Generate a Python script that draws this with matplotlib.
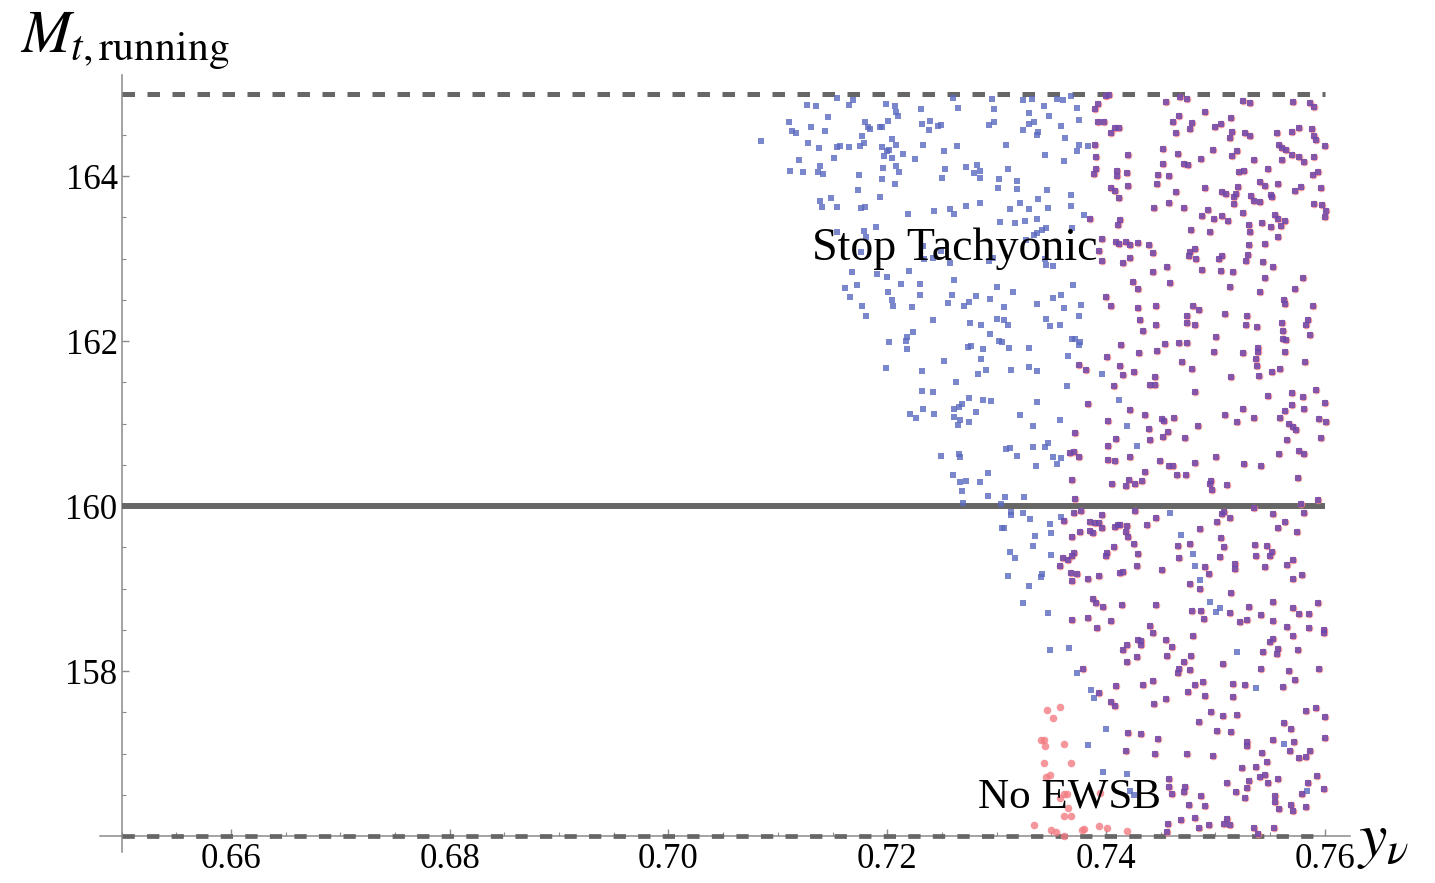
import numpy as np
import matplotlib
matplotlib.use("Agg")
import matplotlib.pyplot as plt
from matplotlib.ticker import MultipleLocator

# scan points (y_nu, M_t running) split by which condition fails
# stop tachyonic only
tachyonic = [
    (0.7154,164.94),(0.7169,164.92),(0.7165,164.86),(0.7127,164.86),(0.7135,164.85),(0.7199,164.87),(0.7207,164.85),
    (0.7208,164.78),(0.7210,164.73),(0.7231,164.81),(0.7260,164.95),(0.7265,164.83),(0.7296,164.93),(0.7298,164.81),
    (0.7324,164.92),(0.7332,164.93),(0.7343,164.85),(0.7330,164.76),(0.7146,164.71),(0.7110,164.66),(0.7130,164.59),
    (0.7113,164.55),(0.7117,164.52),(0.7143,164.55),(0.7180,164.65),(0.7182,164.59),(0.7184,164.57),(0.7193,164.59),
    (0.7195,164.60),(0.7201,164.67),(0.7232,164.63),(0.7239,164.67),(0.7238,164.56),(0.7246,164.61),(0.7249,164.62),
    (0.7293,164.62),(0.7298,164.66),(0.7330,164.63),(0.7334,164.66),(0.7337,164.50),(0.7338,164.53),(0.7324,164.56),
    (0.7348,164.73),(0.7177,164.49),(0.7085,164.43),(0.7128,164.40),(0.7138,164.34),(0.7154,164.35),(0.7157,164.36),
    (0.7165,164.35),(0.7175,164.36),(0.7179,164.40),(0.7195,164.35),(0.7204,164.45),(0.7208,164.38),(0.7202,164.32),
    (0.7200,164.30),(0.7197,164.24),(0.7204,164.22),(0.7214,164.27),(0.7225,164.21),(0.7233,164.38),(0.7252,164.30),
    (0.7264,164.36),(0.7309,164.38),(0.7344,164.25),(0.7119,164.19),(0.7151,164.22),(0.7139,164.12),(0.7111,164.06),
    (0.7123,164.05),(0.7137,164.05),(0.7141,164.03),(0.7196,164.10),(0.7208,164.12),(0.7211,164.05),(0.7174,164.01),
    (0.7195,163.96),(0.7207,163.90),(0.7250,163.97),(0.7253,164.08),(0.7272,164.11),(0.7282,164.13),(0.7279,164.04),
    (0.7285,164.06),(0.7285,163.97),(0.7302,163.96),(0.7310,164.08),(0.7319,163.94),(0.7301,163.86),(0.7319,163.84),
    (0.7346,163.83),(0.7173,163.83),(0.7193,163.75),(0.7139,163.70),(0.7149,163.73),(0.7140,163.62),(0.7154,163.63),
    (0.7176,163.61),(0.7180,163.63),(0.7219,163.54),(0.7243,163.58),(0.7257,163.60),(0.7261,163.54),(0.7272,163.64),
    (0.7285,163.67),(0.7312,163.60),(0.7321,163.67),(0.7330,163.60),(0.7338,163.72),(0.7347,163.61),(0.7303,163.44),
    (0.7317,163.43),(0.7326,163.45),(0.7337,163.48),(0.7179,163.33),(0.7181,163.26),(0.7190,163.38),(0.7154,163.32),
    (0.7345,163.37),(0.7342,163.34),(0.7337,163.31),(0.7334,163.28),(0.7327,163.22),(0.7233,163.15),(0.7176,163.08),
    (0.7234,162.99),(0.7242,163.01),(0.7249,163.09),(0.7257,162.94),(0.7293,162.97),(0.7297,163.01),(0.7344,163.00),
    (0.7345,162.92),(0.7168,162.84),(0.7220,162.85),(0.7191,162.81),(0.7200,162.77),(0.7161,162.64),(0.7172,162.68),
    (0.7213,162.69),(0.7230,162.69),(0.7261,162.74),(0.7201,162.60),(0.7230,162.56),(0.7259,162.56),(0.7281,162.55),
    (0.7300,162.66),(0.7315,162.59),(0.7166,162.53),(0.7204,162.50),(0.7205,162.43),(0.7177,162.43),(0.7223,162.41),
    (0.7256,162.46),(0.7270,162.43),(0.7275,162.47),(0.7294,162.51),(0.7307,162.41),(0.7337,162.45),(0.7181,162.30),
    (0.7242,162.26),(0.7276,162.22),(0.7286,162.19),(0.7300,162.27),(0.7307,162.25),(0.7310,162.19),(0.7345,162.27),
    (0.7294,162.09),(0.7224,162.11),
    (0.7355,164.93),(0.7361,164.92),(0.7368,164.97),(0.7374,164.83),(0.7359,164.61),(0.7375,164.68),(0.7363,164.46),
    (0.7375,164.38),(0.7384,164.36),(0.7374,164.30),(0.7362,164.18),(0.7368,163.77),(0.7368,163.64),(0.7380,163.53),
    (0.7369,163.37),(0.7352,162.91),(0.7370,162.68),(0.7359,162.56),(0.7352,162.52),(0.7377,162.44),(0.7362,162.40),
    (0.7375,162.30),(0.7349,162.18),(0.7358,162.19),
    (0.7202,161.99),(0.7217,162.00),(0.7218,162.05),(0.7218,161.90),(0.7274,161.93),(0.7277,161.94),(0.7288,161.90),
    (0.7302,162.00),(0.7305,161.99),(0.7311,161.91),(0.7330,161.91),(0.7252,161.76),(0.7286,161.78),(0.7199,161.67),
    (0.7232,161.64),(0.7283,161.60),(0.7290,161.65),(0.7313,161.65),(0.7330,161.69),(0.7337,161.64),(0.7263,161.50),
    (0.7232,161.39),(0.7242,161.38),(0.7275,161.31),(0.7268,161.24),(0.7266,161.20),(0.7261,161.18),(0.7288,161.29),
    (0.7295,161.27),(0.7337,161.26),(0.7233,161.17),(0.7243,161.12),(0.7221,161.11),(0.7226,161.07),(0.7281,161.14),
    (0.7261,161.08),(0.7267,161.04),(0.7265,160.98),(0.7275,161.02),(0.7321,161.10),(0.7333,160.97),(0.7333,160.72),
    (0.7309,160.69),(0.7312,160.70),(0.7319,160.61),(0.7249,160.61),(0.7266,160.63),(0.7267,160.59),(0.7336,160.49),
    (0.7260,160.38),(0.7292,160.40),(0.7267,160.29),(0.7272,160.30),(0.7285,160.29),(0.7268,160.18),(0.7292,160.12),
    (0.7308,160.11),(0.7325,160.11),(0.7269,160.04),(0.7304,160.03),(0.7313,159.93),(0.7313,159.89),(0.7324,159.91),
    (0.7331,159.84),(0.7305,159.73),(0.7307,159.73),(0.7335,159.64),(0.7333,159.51),(0.7312,159.44),(0.7317,159.37),
    (0.7310,159.15),
    (0.7369,162.03),(0.7372,162.02),(0.7376,161.99),(0.7375,161.95),(0.7365,161.82),(0.7396,161.60),(0.7364,161.45),
    (0.7412,161.28),(0.7358,161.04),(0.7419,160.97),(0.7347,160.76),(0.7344,160.71),(0.7428,160.73),(0.7352,160.60),
    (0.7359,160.58),(0.7355,160.51),(0.7359,159.87),(0.7349,159.78),(0.7350,159.67),(0.7459,159.91),(0.7469,159.65),
    (0.7480,159.42),(0.7350,159.41),(0.7481,159.27),(0.7486,159.10),(0.7342,159.18),(0.7341,159.14),
    (0.7330,159.03),(0.7324,158.83),
    (0.7347,158.70),(0.7349,158.25),(0.7366,158.28),(0.7374,157.97),(0.7386,157.77),(0.7389,157.67),(0.7400,157.30),
    (0.7384,157.10),(0.7397,156.78),(0.7419,156.75),(0.7422,156.54),(0.7426,156.50),(0.7495,158.84),(0.7504,158.76),
    (0.7501,158.71),(0.7520,158.23),(0.7537,157.80),(0.7563,157.12),(0.7584,156.54),
]

# stop tachyonic and no EWSB at the same time
both = [
    (0.7403,164.98),(0.7400,164.97),(0.7468,164.96),(0.7474,164.93),(0.7455,164.90),(0.7393,164.87),(0.7390,164.81),
    (0.7525,164.91),(0.7532,164.89),(0.7571,164.90),(0.7587,164.89),(0.7590,164.84),(0.7491,164.77),(0.7467,164.73),
    (0.7393,164.66),(0.7398,164.66),(0.7461,164.65),(0.7479,164.64),(0.7514,164.70),(0.7505,164.63),(0.7500,164.59),
    (0.7477,164.57),(0.7408,164.58),(0.7412,164.58),(0.7405,164.52),(0.7464,164.52),(0.7515,164.53),(0.7513,164.46),
    (0.7527,164.52),(0.7532,164.48),(0.7556,164.52),(0.7570,164.53),(0.7577,164.58),(0.7588,164.57),(0.7590,164.49),
    (0.7592,164.44),(0.7558,164.38),(0.7561,164.34),(0.7565,164.32),(0.7570,164.26),(0.7577,164.23),(0.7581,164.17),
    (0.7590,164.23),(0.7600,164.36),(0.7390,164.38),(0.7452,164.33),(0.7391,164.23),(0.7420,164.26),(0.7466,164.27),
    (0.7498,164.32),(0.7520,164.30),(0.7515,164.24),(0.7487,164.21),(0.7471,164.15),(0.7475,164.13),(0.7452,164.15),
    (0.7535,164.20),(0.7561,164.19),(0.7391,164.08),(0.7389,164.02),(0.7410,164.06),(0.7410,164.00),(0.7419,164.04),
    (0.7448,164.01),(0.7458,164.00),(0.7522,164.05),(0.7526,164.06),(0.7548,164.09),(0.7589,164.01),(0.7594,164.05),
    (0.7447,163.90),(0.7405,163.86),(0.7408,163.82),(0.7420,163.88),(0.7464,163.81),(0.7491,163.86),(0.7506,163.81),
    (0.7510,163.78),(0.7517,163.75),(0.7519,163.78),(0.7521,163.87),(0.7541,163.93),(0.7545,163.88),(0.7557,163.90),
    (0.7578,163.87),(0.7573,163.82),(0.7597,163.85),(0.7412,163.73),(0.7533,163.76),(0.7535,163.70),(0.7541,163.68),
    (0.7551,163.77),(0.7552,163.74),(0.7458,163.67),(0.7517,163.66),(0.7590,163.66),(0.7598,163.65),(0.7601,163.58),
    (0.7444,163.61),(0.7471,163.61),(0.7385,163.48),(0.7413,163.47),(0.7411,163.41),(0.7493,163.59),(0.7488,163.52),
    (0.7499,163.48),(0.7506,163.52),(0.7512,163.46),(0.7525,163.55),(0.7555,163.53),(0.7557,163.48),(0.7564,163.46),
    (0.7600,163.50),(0.7531,163.41),(0.7543,163.43),(0.7551,163.38),(0.7560,163.40),(0.7532,163.32),(0.7478,163.34),
    (0.7495,163.32),(0.7557,163.26),(0.7396,163.24),(0.7409,163.20),(0.7412,163.17),(0.7418,163.20),(0.7422,163.16),
    (0.7429,163.19),(0.7439,163.16),(0.7394,163.09),(0.7396,162.97),(0.7416,162.94),(0.7422,163.01),(0.7443,163.07),
    (0.7477,163.08),(0.7476,163.03),(0.7482,163.00),(0.7481,163.12),(0.7503,162.99),(0.7506,163.03),(0.7531,163.16),
    (0.7530,163.04),(0.7528,162.97),(0.7545,163.18),(0.7544,162.96),(0.7553,162.90),(0.7456,162.90),(0.7488,162.86),
    (0.7505,162.85),(0.7516,162.84),(0.7443,162.84),(0.7545,162.76),(0.7580,162.76),(0.7459,162.70),(0.7425,162.71),
    (0.7429,162.63),(0.7513,162.65),(0.7541,162.59),(0.7573,162.63),(0.7563,162.50),(0.7564,162.45),(0.7400,162.53),
    (0.7405,162.43),(0.7446,162.43),(0.7429,162.40),(0.7480,162.42),(0.7485,162.38),(0.7589,162.42),(0.7474,162.30),
    (0.7509,162.33),(0.7529,162.30),(0.7431,162.25),(0.7434,162.12),(0.7446,162.19),(0.7474,162.22),(0.7481,162.20),
    (0.7528,162.19),(0.7538,162.17),(0.7561,162.22),(0.7562,162.12),(0.7583,162.19),(0.7585,162.26),
    (0.7414,161.95),(0.7454,161.96),(0.7467,161.97),(0.7474,161.97),(0.7501,162.05),(0.7562,162.02),(0.7565,162.01),
    (0.7587,162.07),(0.7401,161.81),(0.7413,161.70),(0.7375,161.71),(0.7382,161.65),(0.7430,161.86),(0.7447,161.88),
    (0.7499,161.87),(0.7525,161.86),(0.7539,161.92),(0.7539,161.87),(0.7564,161.87),(0.7537,161.78),(0.7538,161.70),
    (0.7470,161.75),(0.7479,161.66),(0.7582,161.75),(0.7416,161.59),(0.7426,161.62),(0.7445,161.56),(0.7440,161.47),
    (0.7445,161.47),(0.7407,161.45),(0.7514,161.56),(0.7540,161.58),(0.7552,161.62),(0.7559,161.66),(0.7481,161.38),
    (0.7548,161.33),(0.7570,161.37),(0.7580,161.32),(0.7592,161.41),(0.7600,161.25),(0.7384,161.24),(0.7570,161.22),
    (0.7564,161.15),(0.7525,161.18),(0.7422,161.16),(0.7436,161.10),(0.7509,161.10),(0.7520,161.02),(0.7535,161.07),
    (0.7559,161.07),(0.7581,161.17),(0.7595,161.06),(0.7601,161.02),(0.7402,161.03),(0.7451,161.05),(0.7453,161.03),
    (0.7462,161.07),(0.7484,160.97),(0.7567,160.99),(0.7571,160.96),(0.7574,160.92),(0.7439,160.93),(0.7457,160.90),
    (0.7409,160.81),(0.7440,160.80),(0.7452,160.84),(0.7472,160.83),(0.7566,160.80),(0.7597,160.83),(0.7372,160.88),
    (0.7402,160.73),(0.7577,160.67),(0.7581,160.63),(0.7558,160.63),(0.7367,160.64),(0.7371,160.66),(0.7375,160.60),
    (0.7402,160.56),(0.7408,160.55),(0.7422,160.59),(0.7449,160.55),(0.7458,160.49),(0.7461,160.49),(0.7481,160.52),
    (0.7501,160.60),(0.7526,160.51),(0.7542,160.48),(0.7436,160.41),(0.7465,160.37),(0.7473,160.37),(0.7576,160.34),
    (0.7369,160.32),(0.7406,160.27),(0.7421,160.31),(0.7427,160.27),(0.7433,160.30),(0.7418,160.24),(0.7495,160.27),
    (0.7496,160.30),(0.7497,160.19),(0.7511,160.26),(0.7372,160.08),(0.7594,160.07),(0.7578,160.03),(0.7427,159.94),
    (0.7535,159.98),(0.7371,159.91),(0.7377,159.94),(0.7396,159.89),(0.7362,159.82),(0.7385,159.81),(0.7390,159.80),
    (0.7394,159.80),(0.7396,159.73),(0.7385,159.70),(0.7388,159.67),(0.7408,159.74),(0.7411,159.77),(0.7413,159.77),
    (0.7419,159.76),(0.7418,159.69),(0.7438,159.77),(0.7446,159.86),(0.7486,159.72),(0.7502,159.81),(0.7506,159.90),
    (0.7508,159.93),(0.7513,159.86),(0.7553,159.90),(0.7564,159.81),(0.7557,159.73),(0.7575,159.68),(0.7581,159.92),
    (0.7369,159.62),(0.7376,159.68),(0.7420,159.62),(0.7426,159.54),(0.7407,159.50),(0.7401,159.43),(0.7400,159.39),
    (0.7429,159.42),(0.7371,159.43),(0.7369,159.39),(0.7365,159.35),(0.7361,159.37),(0.7358,159.27),(0.7368,159.19),
    (0.7374,159.17),(0.7369,159.09),(0.7384,159.11),(0.7394,159.15),(0.7413,159.19),(0.7416,159.20),(0.7428,159.27),
    (0.7451,159.22),(0.7466,159.51),(0.7477,159.54),(0.7467,159.37),(0.7505,159.61),(0.7508,159.50),(0.7504,159.38),
    (0.7491,159.26),(0.7494,159.17),(0.7477,159.06),(0.7518,159.30),(0.7518,159.24),(0.7536,159.53),(0.7547,159.52),
    (0.7552,159.44),(0.7550,159.39),(0.7537,159.39),(0.7545,159.26),(0.7566,159.28),(0.7571,159.34),(0.7579,159.16),
    (0.7571,159.11),
    (0.7388,158.87),(0.7391,158.82),(0.7397,158.77),(0.7415,158.80),(0.7446,158.80),(0.7486,158.99),(0.7514,158.94),
    (0.7479,158.73),(0.7487,158.73),(0.7490,158.63),(0.7513,158.70),(0.7531,158.77),(0.7553,158.84),(0.7571,158.76),
    (0.7577,158.69),(0.7586,158.69),(0.7594,158.83),(0.7542,158.68),(0.7523,158.60),(0.7529,158.62),(0.7553,158.61),
    (0.7566,158.53),(0.7586,158.52),(0.7599,158.50),(0.7599,158.46),(0.7571,158.43),(0.7369,158.62),(0.7384,158.64),
    (0.7405,158.61),(0.7392,158.52),(0.7440,158.54),(0.7443,158.46),(0.7480,158.43),(0.7429,158.38),(0.7432,158.36),
    (0.7432,158.31),(0.7455,158.37),(0.7460,158.29),(0.7419,158.31),(0.7416,158.25),(0.7428,158.17),(0.7419,158.11),
    (0.7456,158.18),(0.7478,158.18),(0.7471,158.11),(0.7467,158.02),(0.7466,157.98),(0.7477,158.01),(0.7507,158.08),
    (0.7542,158.02),(0.7544,158.23),(0.7550,158.35),(0.7553,158.39),(0.7557,158.27),(0.7556,158.21),(0.7576,158.25),
    (0.7595,158.02),(0.7567,158.00),(0.7573,157.89),(0.7379,158.02),(0.7394,157.73),(0.7409,157.82),(0.7434,157.83),
    (0.7443,157.88),(0.7481,157.83),(0.7489,157.87),(0.7475,157.75),(0.7491,157.70),(0.7516,157.84),(0.7527,157.83),
    (0.7562,157.81),(0.7516,157.68),(0.7444,157.60),(0.7455,157.66),(0.7405,157.62),(0.7408,157.57),(0.7496,157.50),
    (0.7507,157.45),(0.7520,157.47),(0.7485,157.38),(0.7502,157.27),(0.7514,157.26),(0.7563,157.37),(0.7569,157.30),
    (0.7583,157.52),(0.7592,157.55),(0.7600,157.44),(0.7600,157.19),(0.7420,157.25),(0.7432,157.24),(0.7448,157.17),
    (0.7418,157.03),(0.7445,156.99),(0.7474,156.99),(0.7498,156.97),(0.7529,157.14),(0.7529,157.09),(0.7553,157.16),
    (0.7572,157.14),(0.7568,157.03),(0.7543,157.01),(0.7547,156.90),(0.7577,156.95),(0.7583,156.96),(0.7587,157.03),
    (0.7524,156.82),(0.7537,156.84),(0.7541,156.71),(0.7545,156.74),(0.7531,156.67),(0.7548,156.64),(0.7557,156.69),
    (0.7593,156.73),(0.7585,156.64),(0.7599,156.57),(0.7511,156.64),(0.7519,156.53),(0.7529,156.58),(0.7527,156.46),
    (0.7458,156.69),(0.7458,156.59),(0.7460,156.51),(0.7472,156.60),(0.7471,156.53),(0.7487,156.48),(0.7476,156.37),
    (0.7491,156.36),(0.7555,156.49),(0.7555,156.41),(0.7558,156.33),(0.7569,156.37),(0.7571,156.30),(0.7579,156.51),
    (0.7583,156.35),(0.7457,156.14),(0.7456,156.05),(0.7469,156.19),(0.7481,156.22),(0.7485,156.10),(0.7494,156.13),
    (0.7508,156.15),(0.7511,156.21),(0.7513,156.13),(0.7535,156.10),(0.7539,156.03),(0.7554,156.10),
]

# no EWSB only
no_ewsb = [
    (0.7346,157.53),(0.7358,157.56),(0.7352,157.43),(0.7341,157.16),(0.7343,157.16),(0.7344,157.09),(0.7362,157.12),
    (0.7343,156.89),(0.7368,156.89),(0.7345,156.72),(0.7349,156.74),(0.7362,156.51),(0.7364,156.51),(0.7358,156.46),
    (0.7395,156.52),(0.7365,156.34),(0.7362,156.24),(0.7368,156.24),(0.7334,156.13),(0.7394,156.12),(0.7401,156.10),
    (0.7350,156.07),(0.7354,156.05),(0.7362,156.00),(0.7378,156.07),(0.7380,156.09),(0.7419,156.06),
]

X_MIN, X_MAX = 0.65, 0.76
Y_MIN, Y_MAX = 156, 165
MT_REF = 160
xticks = [0.66, 0.68, 0.70, 0.72, 0.74, 0.76]
yticks = [158, 160, 162, 164]

plt.rcParams['font.family'] = ['Liberation Serif', 'DejaVu Serif']
plt.rcParams['mathtext.fontset'] = 'stix'

fig = plt.figure(figsize=(14.35, 8.83), dpi=100)
ax = fig.add_axes([0.0848, 0.0532, 0.8383, 0.8409])
ax.set_xlim(X_MIN, X_MAX)
ax.set_ylim(Y_MIN, Y_MAX)
for sp in ax.spines.values():
    sp.set_visible(False)

axis_col = '#8a8a8a'
line_col = '#666666'

# axes drawn Mathematica style, crossing a bit past the origin
ax.plot([X_MIN - 0.002, X_MAX + 0.0023], [Y_MIN, Y_MIN], color=axis_col, lw=1.1, clip_on=False, zorder=1)
ax.plot([X_MIN, X_MIN], [Y_MIN - 0.19, Y_MAX + 0.22], color=axis_col, lw=1.1, clip_on=False, zorder=1)

# scan boundaries and reference mass
ax.plot([X_MIN, X_MAX], [Y_MAX, Y_MAX], color=line_col, lw=3.6, ls=(0, (2.5, 2.5)), clip_on=False, zorder=2)
ax.plot([X_MIN, X_MAX], [Y_MIN, Y_MIN], color=line_col, lw=3.4, ls=(0, (2.6, 2.6)), clip_on=False, zorder=2)
ax.plot([X_MIN, X_MAX], [MT_REF, MT_REF], color=line_col, lw=4.3, solid_capstyle='butt', clip_on=False, zorder=2)

ex, ey = np.array(no_ewsb + both).T
ax.scatter(ex, ey, s=30, marker='o', color='#f27c82', alpha=0.8, linewidths=0, zorder=3, clip_on=False)
tx, ty = np.array(tachyonic).T
ax.scatter(tx, ty, s=22, marker='s', color='#5a69c0', alpha=0.8, linewidths=0, zorder=4, clip_on=False)
bx, by = np.array(both).T
ax.scatter(bx, by, s=21, marker='s', color='#6a48ae', alpha=0.82, linewidths=0, zorder=4, clip_on=False)

ax.set_xticks(xticks)
ax.set_xticklabels(['%.2f' % v for v in xticks])
ax.set_yticks(yticks)
ax.set_yticklabels([str(v) for v in yticks])
ax.xaxis.set_minor_locator(MultipleLocator(0.005))
ax.yaxis.set_minor_locator(MultipleLocator(0.5))
ax.tick_params(which='major', direction='in', length=5, width=1, color=axis_col, labelsize=25)
ax.tick_params(which='minor', direction='in', length=3, width=0.8, color=axis_col)
ax.tick_params(axis='x', pad=5)
ax.tick_params(axis='y', pad=3)

ax.text(0.7131, 162.98, 'Stop Tachyonic', fontsize=33, zorder=6)
ax.text(0.7283, 156.34, 'No EWSB', fontsize=31, zorder=6)

fig.text(20 / 1435, 1 - 53 / 883, r'$M_{t,\mathrm{running}}$', fontsize=43, va='baseline', ha='left')
fig.text(1357 / 1435, 1 - 856 / 883, r'$y_{\nu}$', fontsize=46, va='baseline', ha='left')

fig.savefig('out.png', dpi=100)
